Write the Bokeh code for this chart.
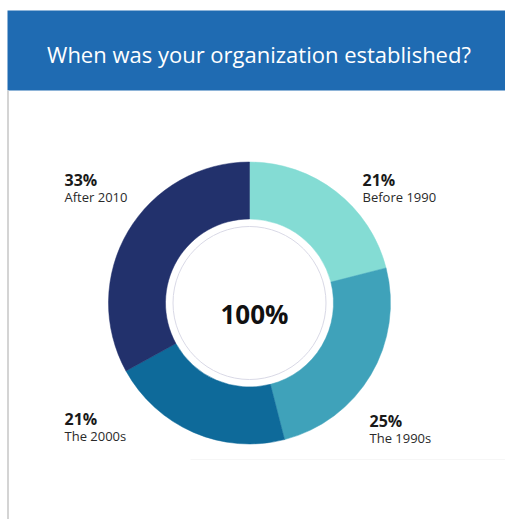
import math
from bokeh.plotting import figure
from bokeh.models import Range1d, ColumnDataSource
from bokeh.core.properties import value
from bokeh.embed import file_html
from bokeh.resources import INLINE

# ---- data ----
title = "When was your organization established?"
categories = ["Before 1990", "The 1990s", "The 2000s", "After 2010"]
shares = [21, 25, 21, 33]
colors = ["#84dcd4", "#3fa2ba", "#0e6a9a", "#22316c"]
total_label = "100%"

# ---- layout (screenshot pixel coordinates; y measured from top) ----
W, H = 505, 519
def Y(sy):  # screen y (from top) -> data y
    return H - sy

cx, cy = 249, Y(302.5)
r_out, r_in, r_ring = 141, 84, 76.5
label_pos = {  # x, baseline of percentage, baseline of category
    "Before 1990": (362, 179, 196),
    "The 1990s": (369, 420, 437),
    "The 2000s": (64, 418, 435),
    "After 2010": (64, 179, 196),
}

p = figure(width=W, height=H, output_backend="svg", toolbar_location=None,
           x_range=Range1d(0, W), y_range=Range1d(0, H),
           min_border=0, outline_line_color=None)
p.axis.visible = False
p.grid.visible = False
p.background_fill_color = "white"
p.border_fill_color = "white"

# header bar
p.quad(left=7, right=W, top=Y(10), bottom=Y(90), fill_color="#1f6bb2", line_color=None)
p.text(x=[258.5], y=[Y(53)], text=[title], text_color="white",
       text_font=value("Open Sans"), text_font_size="22px",
       text_align="center", text_baseline="alphabetic")
# left side rule
p.segment(x0=[7.5], y0=[Y(90)], x1=[7.5], y1=[0], line_color="#d4d4d4", line_width=2)
# faint base rule
p.segment(x0=[190], y0=[Y(459)], x1=[W], y1=[Y(459)], line_color="#f6f6f6", line_width=1)

# donut
total = sum(shares)
starts, ends = [], []
cum = 0
for s in shares:
    starts.append(math.pi / 2 - 2 * math.pi * cum / total)
    cum += s
    ends.append(math.pi / 2 - 2 * math.pi * cum / total)
src = ColumnDataSource(dict(start=starts, end=ends, color=colors, cat=categories))
p.annular_wedge(x=cx, y=cy, inner_radius=r_in, outer_radius=r_out,
                start_angle="start", end_angle="end", direction="clock",
                fill_color="color", line_color="color", line_width=0.5, source=src)
p.circle(x=[cx], y=[cy], radius=r_ring, fill_color=None,
         line_color="#d9d9e6", line_width=1)
p.text(x=[254], y=[Y(313)], text=[total_label], text_color="#111111",
       text_font=value("Open Sans"), text_font_size="26px", text_font_style="bold",
       text_align="center", text_baseline="alphabetic")

# labels
for cat, s in zip(categories, shares):
    lx, b1, b2 = label_pos[cat]
    p.text(x=[lx], y=[Y(b1)], text=[f"{s}%"], text_color="#1a1a1a",
           text_font=value("Open Sans"), text_font_size="16px", text_font_style="bold",
           text_align="left", text_baseline="alphabetic")
    p.text(x=[lx], y=[Y(b2)], text=[cat], text_color="#2a2a2a",
           text_font=value("Open Sans"), text_font_size="13px",
           text_align="left", text_baseline="alphabetic")

open("out.html", "w").write(file_html(p, INLINE))
